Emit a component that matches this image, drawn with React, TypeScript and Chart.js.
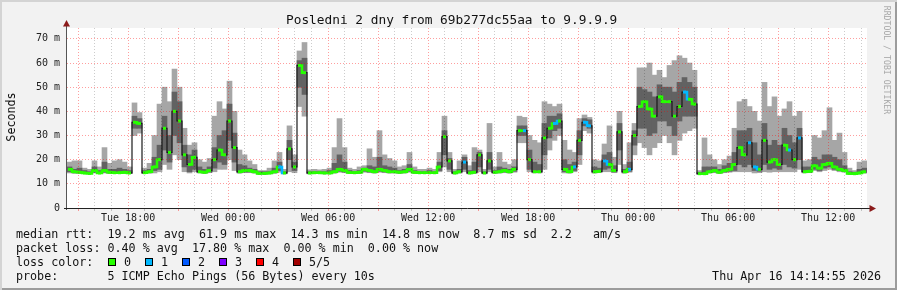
import React, { useEffect, useRef } from "react";
import { Chart, registerables } from "chart.js";

Chart.register(...registerables);

// ---- data -------------------------------------------------------------
const START_CLOCK = 14 + 20 / 60; // Tue 14:20, left edge of the graph
const SPAN_HOURS = 48;
const BIN_HOURS = 0.3; // one sample every 18 minutes
const TICK_LABELS = ["Tue 18:00", "Wed 00:00", "Wed 06:00", "Wed 12:00", "Wed 18:00", "Thu 00:00", "Thu 06:00", "Thu 12:00"];
const Y_TICKS = [0, 5, 10, 15, 20, 25, 30, 35, 40, 45, 50, 55, 60, 65, 70];
const Y_MAX = 74.5;

// median rtt (ms)
const MEDIAN = [
  16, 15, 14.8, 14.5, 14.3, 15.5, 14.5, 15.5, 14.8, 14.6,
  14.6, 14.8, 14.5, 35.5, 35, 14.6, 15, 17, 20, 33,
  23, 40, 36, 22, 18, 21, 15, 14.8, 15.5, 20,
  24, 22, 36, 25, 15, 15.5, 15.5, 15, 14.3, 14.3,
  14.5, 15, 17, 14.5, 24.5, 17, 59, 56, 14.5, 14.6,
  14.6, 14.5, 14.5, 15, 16, 15.5, 14.7, 14.6, 14.8, 16,
  15.5, 15, 16, 15.5, 15, 15, 14.8, 15, 16, 14.8,
  14.6, 14.6, 14.6, 14.6, 17, 29.5, 19.5, 14.5, 15, 19,
  14.5, 14.8, 22, 14.5, 19.5, 14.8, 15, 15.5, 15, 16,
  32, 32, 20, 15, 15, 29, 33, 35, 36, 16,
  15, 17, 28, 35.5, 34, 15, 15.2, 19.5, 18, 15.5,
  31.5, 15, 16, 30, 42, 44, 41, 38, 46, 44,
  44, 38, 42, 48, 45, 43, 14.2, 14.2, 15, 15.5,
  14.8, 15.5, 16, 18, 25, 22, 27, 17, 16, 28,
  19, 20, 18, 26, 24, 20, 29, 15, 15.2, 17.5,
  16.5, 18, 18.5, 17, 16, 15.5, 14.3, 14.2, 14.5, 15,
];

// outer (light) smoke band
const SMOKE_HI = [
  19, 19.5, 19.5, 16.5, 16, 19.5, 17, 25, 18.5, 19.5,
  20, 19, 17, 43.5, 39.5, 16.5, 18.5, 30, 43, 50,
  44, 57.5, 50, 33, 26, 27, 20, 19, 20.5, 38,
  44, 41, 52.5, 40, 24, 22, 19.5, 18, 15.5, 15.5,
  16.5, 19.5, 23, 16, 34, 22, 65, 68.5, 15.8, 16,
  15.8, 16, 16.5, 25, 37, 25, 16.5, 16, 17, 17.5,
  24.5, 21, 32, 22, 20.5, 19.5, 17, 17.5, 23, 17,
  16, 16, 16.5, 16, 23, 38, 23, 16, 19.5, 22,
  17.5, 25, 24, 16, 35, 17, 23, 19, 18, 20,
  38, 37.5, 30, 28, 27, 44, 43, 42, 43, 28,
  24, 23, 37, 38.5, 37.5, 20, 19.5, 26.5, 34, 21,
  40, 18, 27, 35, 58, 58, 60, 55, 57, 54,
  59, 61, 63, 62, 60, 57, 15.5, 29, 22, 20,
  18, 20, 21.5, 33, 44, 45, 42, 40, 36, 52,
  42, 46, 38, 41, 44, 38, 40, 19.5, 20, 30,
  29, 32, 41.5, 28, 31, 23, 16.5, 15.5, 19, 19.5,
];
const SMOKE_LO = [
  14.5, 14.3, 14.3, 14.2, 14.1, 14.5, 14.2, 14.5, 14.3, 14.2,
  14.2, 14.3, 14.2, 30, 31, 14.2, 14.4, 14.5, 15, 18,
  16, 22, 20, 15, 14.5, 15, 14.5, 14.3, 14.6, 15,
  16, 16, 20, 15.5, 14.4, 14.6, 14.6, 14.4, 14, 14,
  14.1, 14.3, 14.8, 14.1, 15, 14.6, 42, 38, 14.1, 14.2,
  14.2, 14.1, 14.1, 14.4, 14.8, 14.6, 14.3, 14.2, 14.3, 14.8,
  14.6, 14.4, 14.8, 14.6, 14.4, 14.4, 14.3, 14.4, 14.8, 14.3,
  14.2, 14.2, 14.2, 14.2, 15, 17, 15, 14.1, 14.4, 15,
  14.1, 14.3, 15, 14.1, 15, 14.3, 14.4, 14.6, 14.4, 14.8,
  27, 27, 15, 14.5, 14.5, 16, 24, 28, 30, 14.5,
  14.4, 15, 18, 32, 31, 14.4, 14.6, 15, 15, 14.6,
  18, 14.4, 14.8, 22, 27, 25, 22, 25, 27, 30,
  27, 22, 28, 31, 32, 33, 13.9, 13.9, 14.4, 14.6,
  14.3, 14.6, 14.8, 15, 15, 15, 15, 14.5, 14.6, 15,
  14.8, 15, 15, 15, 15, 15, 16, 14.5, 14.6, 15.5,
  15, 15.5, 16, 15.5, 15, 14.8, 14, 13.9, 14.1, 14.4,
];

// inner (dark) smoke band
const CORE_HI = [
  17, 16, 16.5, 15.5, 15, 17, 15.5, 19, 16, 16,
  16.5, 16, 15.5, 38, 37, 15.5, 16, 21, 26, 38,
  30, 48, 44, 26, 22, 24, 17, 16, 17, 25,
  30, 32, 43, 31, 18, 17.5, 16.5, 16, 15, 15,
  15, 16.5, 19, 15, 28, 19, 61, 62, 15, 15,
  15, 15, 15.5, 18.5, 22, 19, 15.5, 15, 15.5, 16.5,
  17.5, 17, 21, 17.5, 17, 16.5, 15.5, 16, 18, 15.5,
  15, 15, 15.5, 15, 19, 32, 20.5, 15, 16, 21,
  15.5, 19, 23, 15, 23, 15.5, 17, 16.5, 16, 17,
  34, 34, 24, 19, 18, 35, 38, 38, 39, 20,
  18, 19, 32, 37, 36.5, 17, 16.5, 22, 23, 17.5,
  35, 16, 19, 32, 50, 49, 48, 46, 51, 50,
  50, 48, 52, 54, 52, 50, 14.8, 17, 17, 17,
  16, 17.5, 18.5, 23, 32, 32, 33, 27, 22, 35,
  26, 28, 26, 33, 30, 27, 33, 17, 17, 21,
  20, 22, 22, 21, 20, 17.5, 15, 14.8, 16, 16.5,
];
const CORE_LO = [
  15, 14.6, 14.5, 14.3, 14.2, 14.8, 14.3, 14.8, 14.5, 14.4,
  14.4, 14.5, 14.3, 33, 33, 14.3, 14.6, 15.5, 16, 24,
  19, 30, 27, 17, 15, 16, 14.7, 14.5, 14.9, 16.5,
  19, 18, 28, 19, 14.6, 14.9, 14.9, 14.6, 14.1, 14.1,
  14.3, 14.6, 15.5, 14.3, 20, 15.5, 50, 47, 14.3, 14.4,
  14.4, 14.3, 14.3, 14.6, 15.2, 14.9, 14.5, 14.4, 14.5, 15.2,
  14.9, 14.7, 15.2, 14.9, 14.7, 14.7, 14.5, 14.7, 15.2, 14.5,
  14.4, 14.4, 14.4, 14.4, 15.5, 22, 16, 14.3, 14.7, 16,
  14.3, 14.5, 17, 14.3, 16, 14.5, 14.7, 14.9, 14.7, 15.2,
  30, 30, 16, 14.7, 14.7, 22, 29, 32, 33, 15,
  14.7, 15.5, 22, 34, 33, 14.7, 14.9, 16, 16.5, 14.9,
  24, 14.6, 15.2, 26, 33, 33, 30, 31, 36, 36,
  34, 30, 36, 38, 38, 38, 14, 14, 14.7, 14.9,
  14.5, 14.9, 15.2, 15.5, 18, 17, 18, 15.5, 15.2, 18,
  16, 16.5, 16, 18, 17, 16.5, 20, 14.8, 14.9, 16,
  15.5, 16.5, 17, 16, 15.5, 15.2, 14.1, 14, 14.3, 14.7,
];

// lost pings per sample (of 5)
const LOSS = [
  0, 0, 0, 0, 0, 0, 0, 0, 0, 0,
  0, 0, 0, 0, 0, 0, 0, 0, 0, 0,
  0, 0, 0, 0, 0, 0, 0, 0, 0, 0,
  0, 0, 0, 0, 0, 0, 0, 0, 0, 0,
  0, 0, 1, 0, 0, 0, 0, 0, 0, 0,
  0, 0, 0, 0, 0, 0, 0, 0, 0, 0,
  0, 0, 0, 0, 0, 0, 0, 0, 0, 0,
  0, 0, 0, 0, 0, 0, 0, 0, 0, 1,
  0, 0, 0, 0, 0, 0, 0, 0, 0, 0,
  0, 1, 0, 0, 0, 0, 0, 1, 0, 0,
  0, 1, 0, 1, 1, 0, 0, 1, 0, 0,
  0, 0, 1, 0, 0, 0, 0, 0, 0, 0,
  0, 0, 0, 1, 0, 0, 0, 0, 0, 0,
  0, 0, 0, 0, 0, 0, 1, 1, 0, 0,
  0, 0, 0, 0, 1, 0, 1, 0, 0, 0,
  0, 0, 0, 0, 0, 0, 0, 0, 0, 0,
];

const LOSS_COLORS = ["#26ff00", "#00b8ff", "#0059ff", "#7e00ff", "#ff0000", "#a10000"];
const LOSS_LABELS = ["0", "1", "2", "3", "4", "5/5"];

const TITLE = "Posledni 2 dny from 69b277dc55aa to 9.9.9.9";
const Y_TITLE = "Seconds";
const WATERMARK = "RRDTOOL / TOBI OETIKER";
const LEGEND_RTT = "median rtt:  19.2 ms avg  61.9 ms max  14.3 ms min  14.8 ms now  8.7 ms sd  2.2   am/s";
const LEGEND_LOSS = "packet loss: 0.40 % avg  17.80 % max  0.00 % min  0.00 % now";
const LEGEND_COLOR = "loss color:";
const LEGEND_PROBE = "probe:       5 ICMP Echo Pings (56 Bytes) every 10s";
const TIMESTAMP = "Thu Apr 16 14:14:55 2026";

// ---- styling ----------------------------------------------------------
const MONO = "'DejaVu Sans Mono', monospace";
const RED_GRID = "rgba(255,0,0,0.38)";
const GREY_GRID = "rgba(0,0,0,0.2)";
const LIGHT_SMOKE = "#a6a6a6";
const DARK_SMOKE = "#626262";

const axesPlugin = {
  id: "rrdAxes",
  beforeDraw(chart: any) {
    const { ctx, chartArea: a } = chart;
    ctx.save();
    ctx.fillStyle = "#ffffff";
    ctx.fillRect(a.left, a.top, a.right - a.left, a.bottom - a.top);
    ctx.restore();
  },
  afterDraw(chart: any) {
    const { ctx, chartArea: a } = chart;
    ctx.save();
    ctx.lineWidth = 1;
    // y axis
    ctx.strokeStyle = "#555555";
    ctx.beginPath();
    ctx.moveTo(a.left - 0.5, a.bottom + 2);
    ctx.lineTo(a.left - 0.5, a.top - 2);
    ctx.stroke();
    // x axis
    ctx.strokeStyle = "#222222";
    ctx.beginPath();
    ctx.moveTo(a.left - 3, a.bottom + 0.5);
    ctx.lineTo(a.right + 4, a.bottom + 0.5);
    ctx.stroke();
    // arrows
    ctx.fillStyle = "#8b1a1a";
    ctx.beginPath();
    ctx.moveTo(a.left - 0.5, a.top - 8);
    ctx.lineTo(a.left - 4, a.top - 1.5);
    ctx.lineTo(a.left + 3, a.top - 1.5);
    ctx.closePath();
    ctx.fill();
    ctx.beginPath();
    ctx.moveTo(a.right + 9, a.bottom + 0.5);
    ctx.lineTo(a.right + 2.5, a.bottom - 3);
    ctx.lineTo(a.right + 2.5, a.bottom + 4);
    ctx.closePath();
    ctx.fill();
    ctx.restore();
  },
};

function clockOf(v: number) {
  return Math.round(v + START_CLOCK);
}

export default function App() {
  const canvasRef = useRef<HTMLCanvasElement | null>(null);

  useEffect(() => {
    const canvas = canvasRef.current;
    if (!canvas) return;
    const xs = MEDIAN.map((_, i) => (i + 0.5) * BIN_HOURS);
    const lightSmoke = xs.map((x, i) => ({ x, y: [SMOKE_LO[i], SMOKE_HI[i]] }));
    const darkSmoke = xs.map((x, i) => ({ x, y: [CORE_LO[i], CORE_HI[i]] }));
    const median = xs.map((x, i) => ({ x, y: MEDIAN[i] }));
    const pointColors = LOSS.map((l) => LOSS_COLORS[l]);

    const chart = new Chart(canvas, {
      type: "bar",
      data: {
        datasets: [
          {
            type: "line",
            label: "median",
            data: median as any,
            order: 1,
            stepped: "middle",
            borderWidth: 2.5,
            borderColor: LOSS_COLORS[0],
            segment: {
              borderColor: (ctx: any) => {
                const a = ctx.p0.parsed.y;
                const b = ctx.p1.parsed.y;
                if (Math.abs(a - b) > 3) return "rgba(0,0,0,0)";
                return LOSS_COLORS[LOSS[ctx.p0DataIndex]];
              },
            },
            pointStyle: "rect",
            pointRadius: 2.1,
            pointBorderWidth: 0,
            pointBackgroundColor: pointColors,
            fill: false,
          } as any,
          {
            type: "line",
            label: "median-path",
            data: median as any,
            order: 2,
            stepped: "middle",
            borderWidth: 1.2,
            borderColor: "#1a1a1a",
            pointRadius: 0,
            fill: false,
          } as any,
          {
            type: "bar",
            label: "core",
            data: darkSmoke as any,
            order: 3,
            grouped: false,
            backgroundColor: DARK_SMOKE,
            borderWidth: 0,
            barPercentage: 1,
            categoryPercentage: 1,
          } as any,
          {
            type: "bar",
            label: "smoke",
            data: lightSmoke as any,
            order: 4,
            grouped: false,
            backgroundColor: LIGHT_SMOKE,
            borderWidth: 0,
            barPercentage: 1,
            categoryPercentage: 1,
          } as any,
        ],
      },
      options: {
        animation: false,
        responsive: false,
        devicePixelRatio: 1,
        events: [],
        layout: { padding: { left: 0, top: 28, right: 30, bottom: 60 } },
        plugins: { legend: { display: false }, tooltip: { enabled: false }, title: { display: false } },
        scales: {
          x: {
            type: "linear",
            min: 0,
            max: SPAN_HOURS,
            offset: false,
            afterBuildTicks: (axis: any) => {
              const ticks = [];
              for (let h = Math.ceil(START_CLOCK); h - START_CLOCK < SPAN_HOURS; h++) {
                ticks.push({ value: h - START_CLOCK });
              }
              axis.ticks = ticks;
            },
            afterFit: (axis: any) => {
              axis.height = 22;
            },
            ticks: {
              autoSkip: false,
              maxRotation: 0,
              minRotation: 0,
              padding: 1,
              color: "#222222",
              font: { family: MONO, size: 10 },
              callback: (v: any) => {
                const h = clockOf(Number(v));
                return h % 6 === 0 ? TICK_LABELS[(h - 18) / 6] ?? "" : "";
              },
            },
            grid: {
              z: 1,
              offset: false,
              drawTicks: true,
              tickLength: 3,
              lineWidth: 1,
              color: (c: any) => (clockOf(c.tick.value) % 3 === 0 ? RED_GRID : GREY_GRID),
              tickColor: (c: any) => (clockOf(c.tick.value) % 3 === 0 ? RED_GRID : GREY_GRID),
            },
            border: { display: false, dash: [1, 2] },
          } as any,
          y: {
            type: "linear",
            min: 0,
            max: Y_MAX,
            afterBuildTicks: (axis: any) => {
              axis.ticks = Y_TICKS.map((v) => ({ value: v }));
            },
            afterFit: (axis: any) => {
              axis.width = 67;
            },
            ticks: {
              padding: 7,
              color: "#222222",
              font: { family: MONO, size: 10 },
              callback: (v: any) => {
                const n = Number(v);
                if (n === 0) return "0";
                return n % 10 === 0 ? `${n} m` : "";
              },
            },
            grid: {
              z: 1,
              drawTicks: false,
              lineWidth: 1,
              color: (c: any) =>
                c.tick.value === 0 ? "rgba(0,0,0,0)" : c.tick.value % 10 === 0 ? RED_GRID : GREY_GRID,
            },
            border: { display: false, dash: [1, 2] },
          } as any,
        },
      },
      plugins: [axesPlugin],
    });
    return () => chart.destroy();
  }, []);

  const textBase: React.CSSProperties = {
    position: "absolute",
    fontFamily: MONO,
    whiteSpace: "pre",
    color: "#111111",
    margin: 0,
  };
  const legendFont: React.CSSProperties = { ...textBase, fontSize: "11.7px", lineHeight: "14px" };
  const swatchX = [108, 145, 182, 219, 256, 293];

  return (
    <div
      style={{
        position: "absolute",
        left: 0,
        top: 0,
        width: 897,
        height: 290,
        background: "#f2f2f2",
        boxShadow: "inset 2px 2px 0 #d4d4d4, inset -2px -2px 0 #9c9c9c",
        overflow: "hidden",
      }}
    >
      <canvas ref={canvasRef} width={897} height={290} style={{ position: "absolute", left: 0, top: 0, width: 897, height: 290 }} />
      <div style={{ ...textBase, left: 286, top: 12, fontSize: "12.8px", lineHeight: "15px" }}>{TITLE}</div>
      <div
        style={{
          ...textBase,
          left: 10.5 - 40,
          top: 117 - 7,
          width: 80,
          textAlign: "center",
          fontSize: "11.7px",
          lineHeight: "14px",
          transform: "rotate(-90deg)",
        }}
      >
        {Y_TITLE}
      </div>
      <div
        style={{
          ...textBase,
          left: 887 - 60,
          top: 60 - 6,
          width: 120,
          textAlign: "center",
          fontSize: "8.2px",
          lineHeight: "12px",
          color: "#a8a8a8",
          transform: "rotate(90deg)",
        }}
      >
        {WATERMARK}
      </div>
      <div style={{ ...legendFont, left: 16, top: 226.5 }}>{LEGEND_RTT}</div>
      <div style={{ ...legendFont, left: 16, top: 240.5 }}>{LEGEND_LOSS}</div>
      <div style={{ ...legendFont, left: 16, top: 254.5 }}>{LEGEND_COLOR}</div>
      {LOSS_COLORS.map((c, i) => (
        <React.Fragment key={c}>
          <div
            style={{
              position: "absolute",
              left: swatchX[i],
              top: 258,
              width: 6,
              height: 6,
              background: c,
              border: "1px solid #000",
            }}
          />
          <div style={{ ...legendFont, left: swatchX[i] + 16, top: 254.5 }}>{LOSS_LABELS[i]}</div>
        </React.Fragment>
      ))}
      <div style={{ ...legendFont, left: 16, top: 268.5 }}>{LEGEND_PROBE}</div>
      <div style={{ ...legendFont, right: 16, top: 268.5, textAlign: "right" }}>{TIMESTAMP}</div>
    </div>
  );
}
